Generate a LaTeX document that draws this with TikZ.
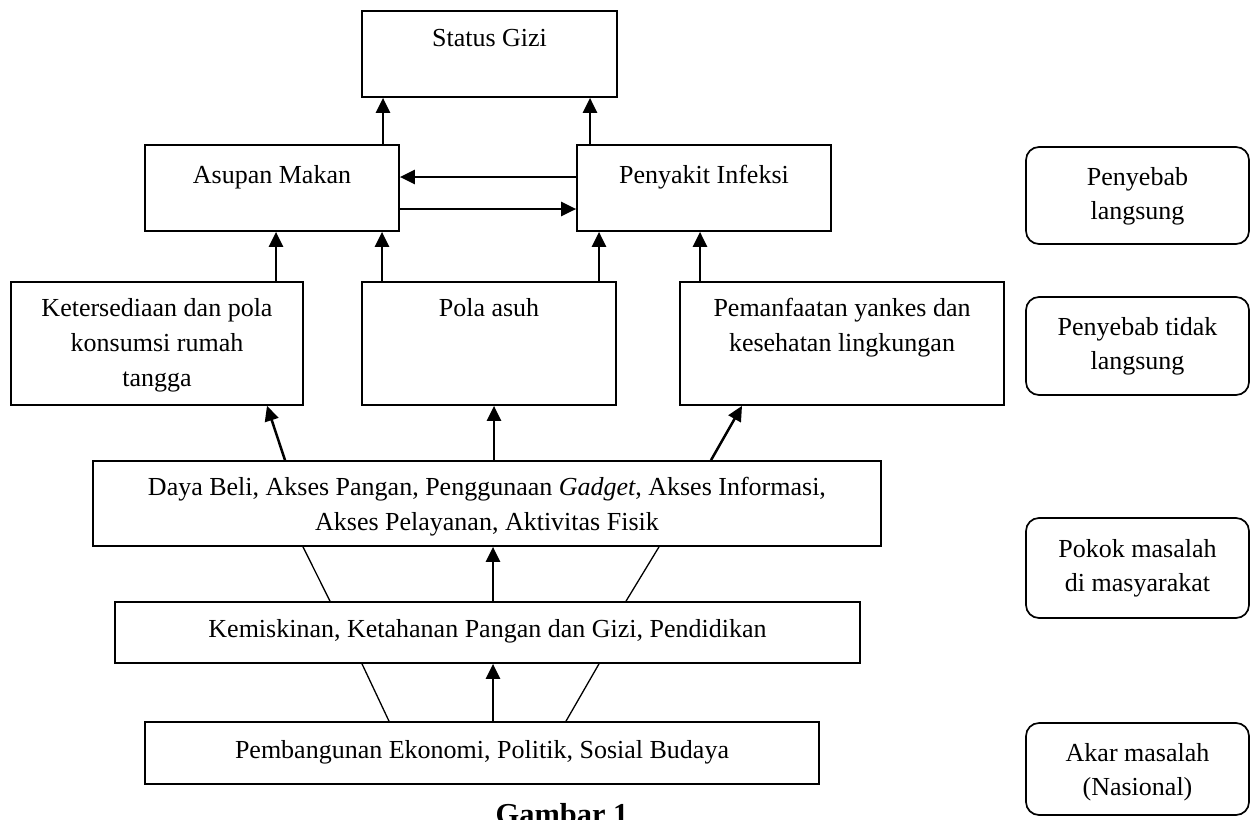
\documentclass[tikz,border=0pt]{standalone}
\usepackage{fontspec}
\setmainfont{Liberation Serif}
\usetikzlibrary{arrows.meta,calc}
\tikzset{
  box/.style={draw=black, line width=0.85pt, rectangle, inner sep=0pt},
  rbox/.style={draw=black, line width=0.85pt, rectangle, rounded corners=6.5pt, inner sep=0pt},
  txt/.style={inner sep=0pt, anchor=north, align=center, font=\fontsize{13}{17.5}\selectfont},
  rtxt/.style={inner sep=0pt, anchor=north, align=center, font=\fontsize{13}{16.8}\selectfont},
  arr/.style={line width=1.25pt, -{Triangle[length=7.5pt,width=7pt]}},
  thin/.style={line width=0.65pt},
}
\begin{document}
\begin{tikzpicture}[x=0.5pt,y=-0.5pt]
\useasboundingbox (0,0) rectangle (1251,819);
% boxes
\node[box, minimum width=127.5pt, minimum height=43pt] (sg) at (489.5,54) {};
\node[box, minimum width=127pt, minimum height=43pt] (am) at (272,188) {};
\node[box, minimum width=127pt, minimum height=43pt] (pi) at (704,188) {};
\node[box, minimum width=146pt, minimum height=61.5pt] (kp) at (157,343.5) {};
\node[box, minimum width=127pt, minimum height=61.5pt] (pa) at (489,343.5) {};
\node[box, minimum width=162pt, minimum height=61.5pt] (py) at (842,343.5) {};
\node[box, minimum width=394pt, minimum height=42.5pt] (db) at (487,503.5) {};
\node[box, minimum width=372.5pt, minimum height=30.5pt] (km) at (487.5,632.5) {};
\node[box, minimum width=337pt, minimum height=31pt] (pb) at (482,753) {};
\node[rbox, minimum width=111.5pt, minimum height=48.5pt] (r1) at (1137.5,195.5) {};
\node[rbox, minimum width=111.5pt, minimum height=49pt] (r2) at (1137.5,346) {};
\node[rbox, minimum width=111.5pt, minimum height=50pt] (r3) at (1137.5,568) {};
\node[rbox, minimum width=111.5pt, minimum height=46pt] (r4) at (1137.5,769) {};
% texts
\node[txt] (sgt) at (489.5,29) {Status Gizi};
\node[txt] (amt) at (272,165) {Asupan Makan};
\node[txt] (pit) at (704,165) {Penyakit Infeksi};
\node[txt] (kpt) at (157,298) {Ketersediaan dan pola\\konsumsi rumah\\tangga};
\node[txt] (pat) at (489,298) {Pola asuh};
\node[txt] (pyt) at (842,298) {Pemanfaatan yankes dan\\kesehatan lingkungan};
\node[txt] (dbt) at (487,477) {Daya Beli, Akses Pangan, Penggunaan \textit{Gadget}, Akses Informasi,\\Akses Pelayanan, Aktivitas Fisik};
\node[txt] (kmt) at (487.5,619) {Kemiskinan, Ketahanan Pangan dan Gizi, Pendidikan};
\node[txt] (pbt) at (482,740) {Pembangunan Ekonomi, Politik, Sosial Budaya};
\node[rtxt] (r1t) at (1137.5,167) {Penyebab\\langsung};
\node[rtxt] (r2t) at (1137.5,317) {Penyebab tidak\\langsung};
\node[rtxt] (r3t) at (1137.5,539) {Pokok masalah\\di masyarakat};
\node[rtxt] (r4t) at (1137.5,743) {Akar masalah\\(Nasional)};
\node[inner sep=0pt, anchor=base, font=\fontsize{15.2}{18}\selectfont\bfseries] (cap) at (562,824) {Gambar 1};
% arrows
\draw[arr] (am.north -| 383,0) -- (sg.south -| 383,0);
\draw[arr] (pi.north -| 590,0) -- (sg.south -| 590,0);
\draw[arr] (pi.west |- 0,177) -- (am.east |- 0,177);
\draw[arr] (am.east |- 0,209) -- (pi.west |- 0,209);
\draw[arr] (kp.north -| 276,0) -- (am.south -| 276,0);
\draw[arr] (pa.north -| 382,0) -- (am.south -| 382,0);
\draw[arr] (pa.north -| 599,0) -- (pi.south -| 599,0);
\draw[arr] (py.north -| 700,0) -- (pi.south -| 700,0);
\draw[arr] (db.north -| 285,0) -- (kp.south -| 267,0);
\draw[arr] (db.north -| 494,0) -- (pa.south -| 494,0);
\draw[arr] (db.north -| 711,0) -- (py.south -| 742,0);
\draw[arr] (km.north -| 493,0) -- (db.south -| 493,0);
\draw[thin] (km.north -| 330,0) -- (db.south -| 303,0);
\draw[thin] (km.north -| 626,0) -- (db.south -| 659,0);
\draw[arr] (pb.north -| 493,0) -- (km.south -| 493,0);
\draw[thin] (pb.north -| 389,0) -- (km.south -| 362,0);
\draw[thin] (pb.north -| 566,0) -- (km.south -| 599,0);
\end{tikzpicture}
\end{document}
